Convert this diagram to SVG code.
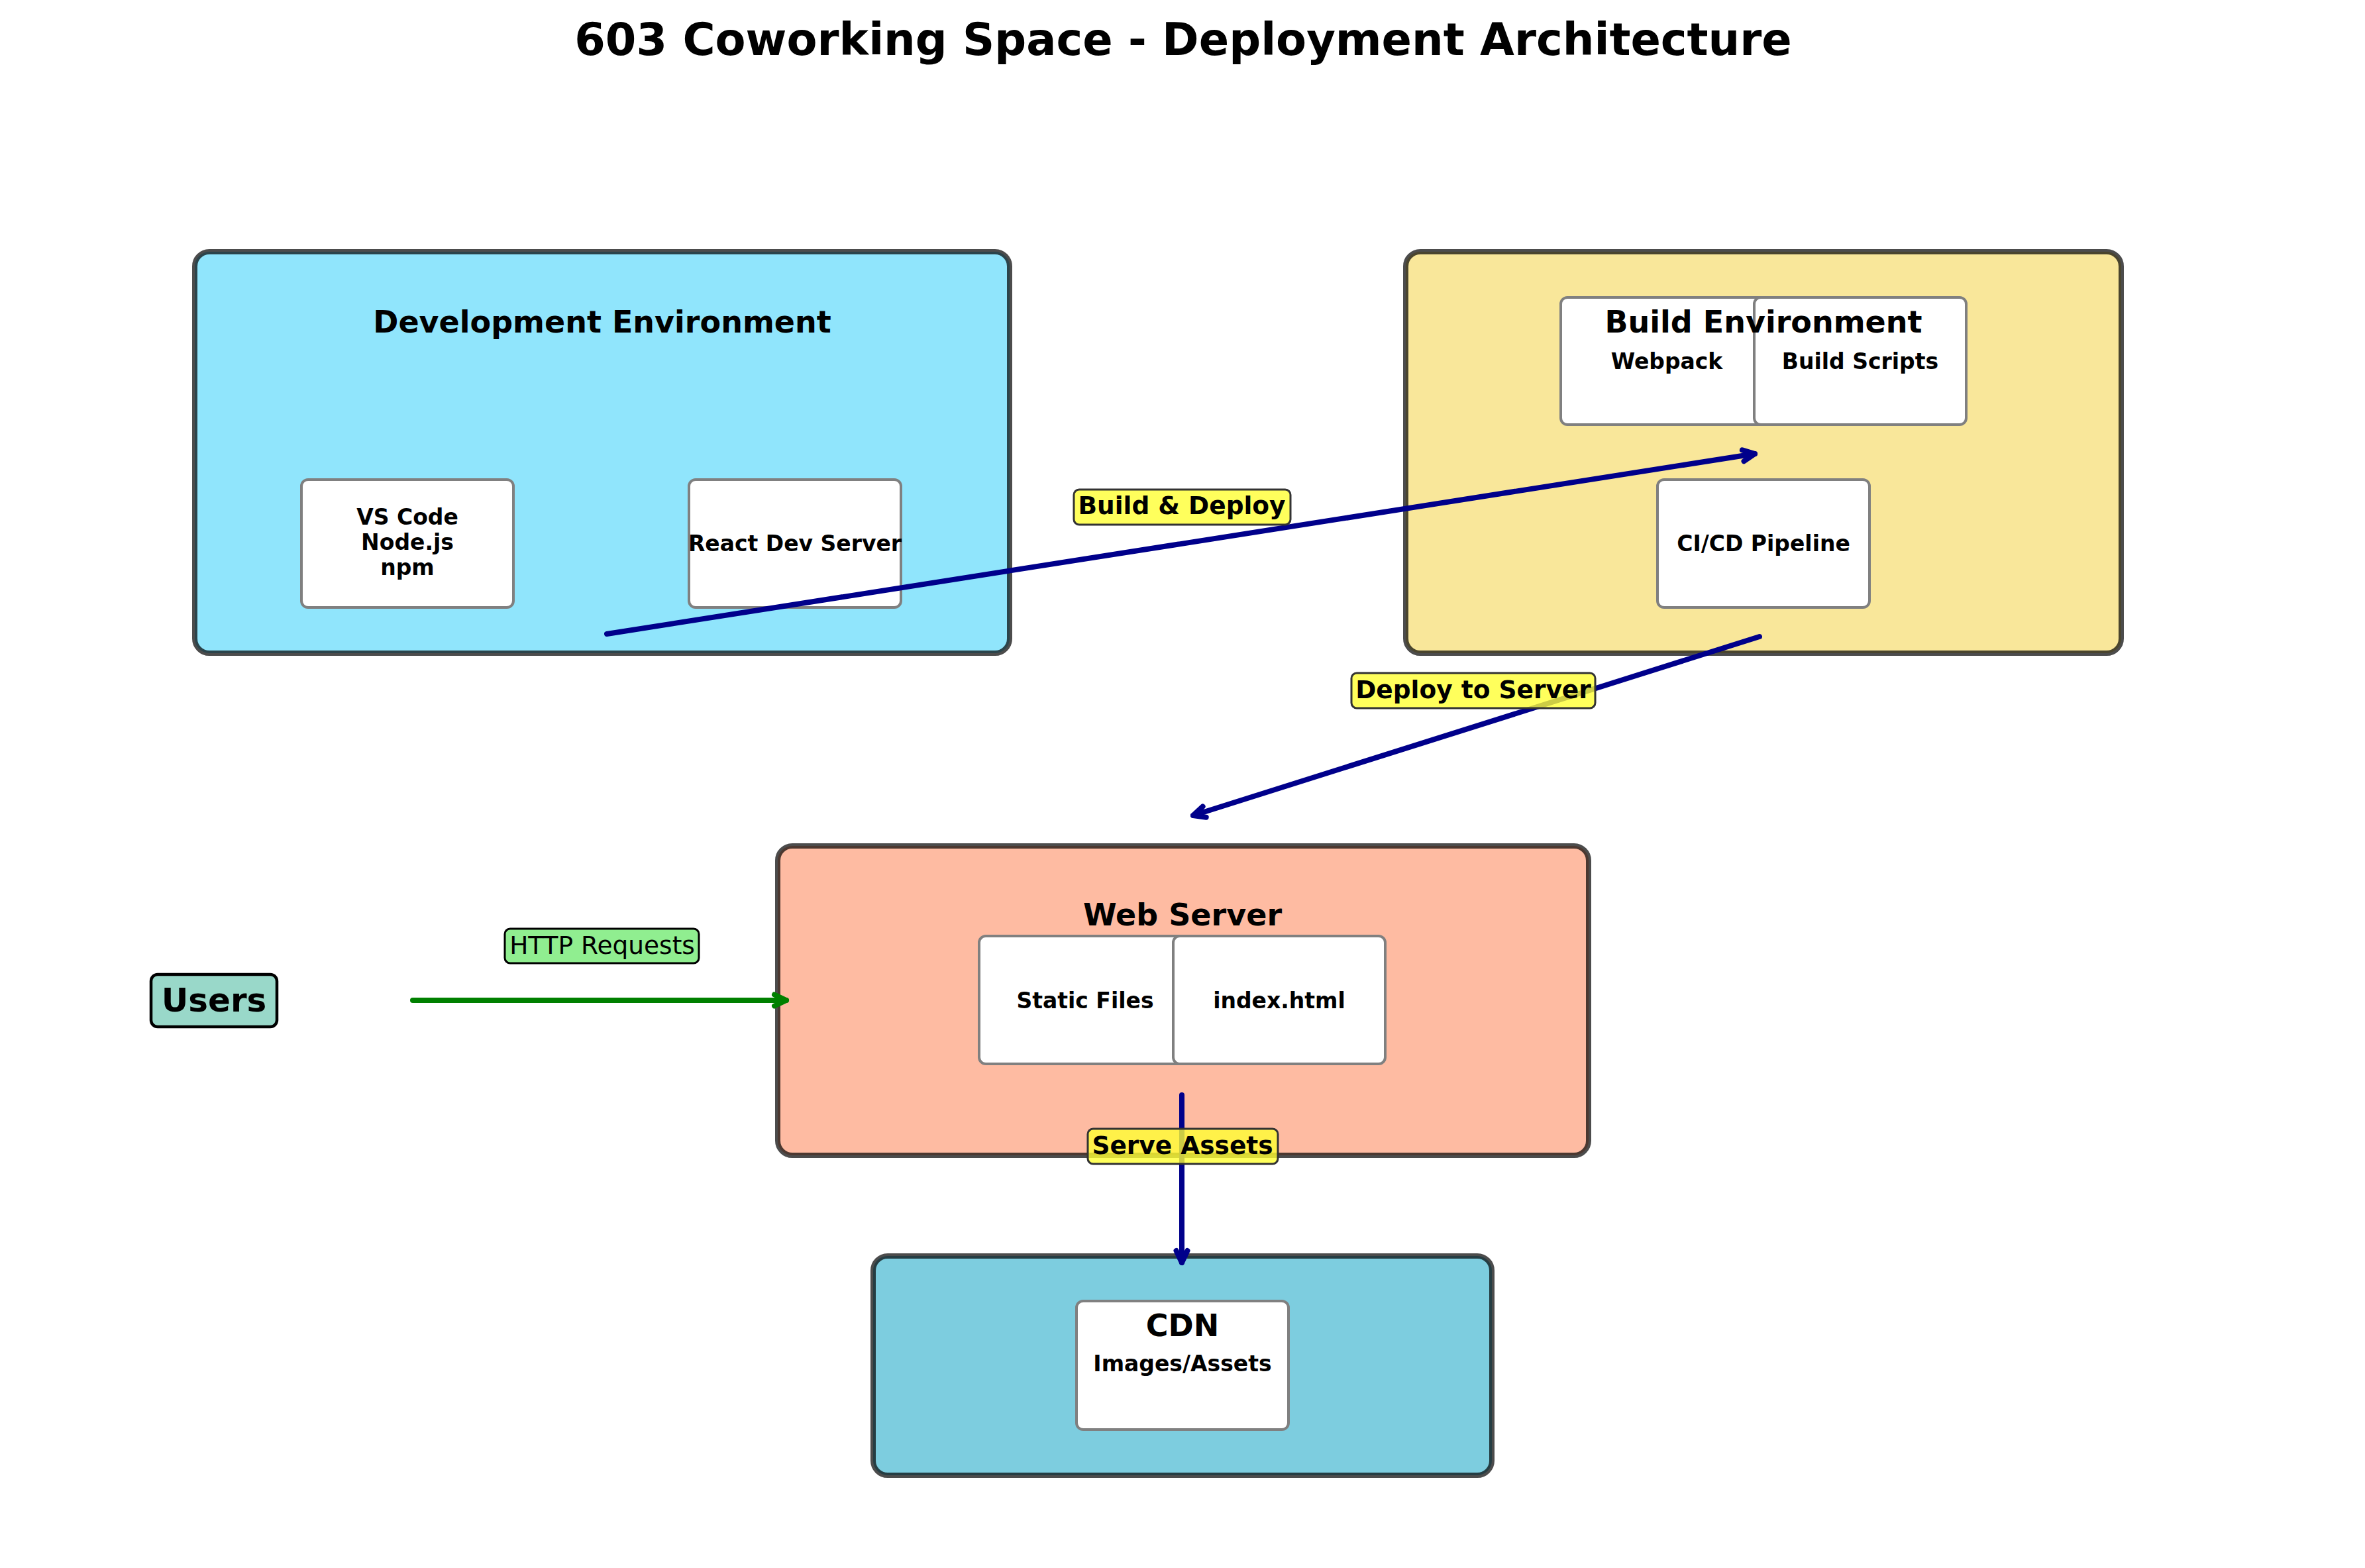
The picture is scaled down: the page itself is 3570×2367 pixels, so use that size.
<svg xmlns="http://www.w3.org/2000/svg" width="3570" height="2367" viewBox="0 0 3570 2367">
<style>
text{font-family:"DejaVu Sans","Liberation Sans",sans-serif;fill:#000;text-anchor:middle}
.title{font-size:67px;font-weight:bold}
.env{font-size:46px;font-weight:bold}
.sub{font-size:33px;font-weight:bold}
.lbl{font-size:37.5px;font-weight:bold}
.lbln{font-size:37.5px}
.main{stroke:#000;stroke-opacity:0.7;stroke-width:8}
.inner{fill:#fff;stroke:#808080;stroke-width:4}
.conn{fill:none;stroke-width:8;stroke-linecap:round}
.tag{fill:#FFFF33;stroke:#333;stroke-width:3}
</style>
<defs>
<marker id="ahNavy" markerUnits="userSpaceOnUse" markerWidth="50" markerHeight="50" viewBox="-30 -25 50 50" refX="0" refY="0" orient="auto" overflow="visible">
<path d="M-18,-8.5 L0,0 L-18,8.5" fill="none" stroke="#00008B" stroke-width="8" stroke-linecap="round" stroke-linejoin="round"/>
</marker>
<marker id="ahGreen" markerUnits="userSpaceOnUse" markerWidth="50" markerHeight="50" viewBox="-30 -25 50 50" refX="0" refY="0" orient="auto" overflow="visible">
<path d="M-18,-8.5 L0,0 L-18,8.5" fill="none" stroke="#008000" stroke-width="8" stroke-linecap="round" stroke-linejoin="round"/>
</marker>
</defs>
<rect width="3570" height="2367" fill="#fff"/>
<text class="title" x="1786" y="83">603 Coworking Space - Deployment Architecture</text>

<g id="dev-env">
<rect class="main" x="294" y="380" width="1230" height="606" rx="22" fill="#90E5FC"/>
<rect class="inner" x="455" y="724" width="320" height="193" rx="10"/>
<text class="sub" x="615" y="792">VS Code</text>
<text class="sub" x="615" y="830">Node.js</text>
<text class="sub" x="615" y="868">npm</text>
<rect class="inner" x="1040" y="724" width="320" height="193" rx="10"/>
<text class="sub" x="1200" y="832">React Dev Server</text>
<text class="env" x="909" y="502">Development Environment</text>
</g>

<g id="build-env">
<rect class="main" x="2122" y="380" width="1080" height="606" rx="22" fill="#F9E79A"/>
<rect class="inner" x="2356" y="449" width="320" height="192" rx="10"/>
<text class="sub" x="2516" y="557">Webpack</text>
<rect class="inner" x="2648" y="449" width="320" height="192" rx="10"/>
<text class="sub" x="2808" y="557">Build Scripts</text>
<rect class="inner" x="2502" y="724" width="320" height="193" rx="10"/>
<text class="sub" x="2662" y="832">CI/CD Pipeline</text>
<text class="env" x="2662" y="502">Build Environment</text>
</g>

<g id="web-server">
<rect class="main" x="1174" y="1277" width="1224" height="467" rx="22" fill="#FEBBA2"/>
<rect class="inner" x="1478" y="1413" width="320" height="193" rx="10"/>
<text class="sub" x="1638" y="1522">Static Files</text>
<rect class="inner" x="1771" y="1413" width="320" height="193" rx="10"/>
<text class="sub" x="1931" y="1522">index.html</text>
<text class="env" x="1785" y="1397">Web Server</text>
</g>

<g id="cdn">
<rect class="main" x="1318" y="1896" width="934" height="331" rx="22" fill="#7DCDDF"/>
<rect class="inner" x="1625" y="1964" width="320" height="194" rx="10"/>
<text class="env" x="1785" y="2017">CDN</text>
<text class="sub" x="1785" y="2070">Images/Assets</text>
</g>

<g id="users">
<rect x="228" y="1471" width="190" height="79" rx="10" fill="#99D8C9" stroke="#000" stroke-width="4.5"/>
<text class="env" x="323" y="1527" style="font-size:50px">Users</text>
</g>

<g id="connectors">
<line class="conn" x1="916" y1="957" x2="2649" y2="685" stroke="#00008B" marker-end="url(#ahNavy)"/>
<line class="conn" x1="2656" y1="961" x2="1801" y2="1231" stroke="#00008B" marker-end="url(#ahNavy)"/>
<line class="conn" x1="1784" y1="1653" x2="1784" y2="1906" stroke="#00008B" marker-end="url(#ahNavy)"/>
<line class="conn" x1="623" y1="1510" x2="1187" y2="1510" stroke="#008000" marker-end="url(#ahGreen)"/>

<rect class="tag" x="1621" y="739" width="327" height="53" rx="8" style="fill-opacity:0.8"/>
<text class="lbl" x="1784" y="776">Build &amp; Deploy</text>
<rect class="tag" x="2040" y="1016" width="368" height="53" rx="8" style="fill-opacity:0.8"/>
<text class="lbl" x="2224" y="1054">Deploy to Server</text>
<rect class="tag" x="1642" y="1704" width="287" height="53" rx="8" style="fill-opacity:0.8"/>
<text class="lbl" x="1785" y="1742">Serve Assets</text>
<rect x="762" y="1402" width="293" height="52" rx="8" fill="#90EE90" stroke="#000" stroke-width="3"/>
<text class="lbln" x="909" y="1440">HTTP Requests</text>
</g>
</svg>
